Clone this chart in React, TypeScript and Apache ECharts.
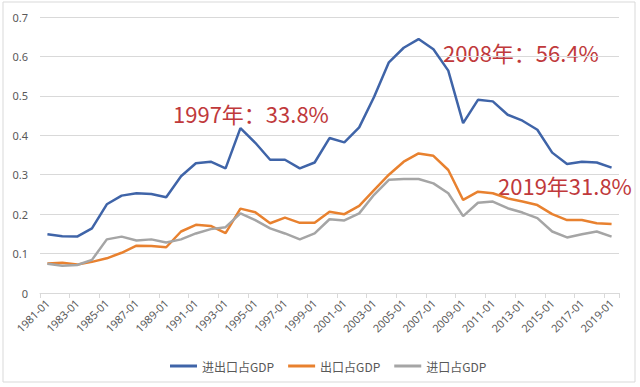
import React, { useEffect, useRef } from "react";
import * as echarts from "echarts";

const categories = [
  "1981-01", "1982-01", "1983-01", "1984-01", "1985-01", "1986-01", "1987-01", "1988-01", "1989-01", "1990-01",
  "1991-01", "1992-01", "1993-01", "1994-01", "1995-01", "1996-01", "1997-01", "1998-01", "1999-01", "2000-01",
  "2001-01", "2002-01", "2003-01", "2004-01", "2005-01", "2006-01", "2007-01", "2008-01", "2009-01", "2010-01",
  "2011-01", "2012-01", "2013-01", "2014-01", "2015-01", "2016-01", "2017-01", "2018-01", "2019-01",
];

const totalTrade = [
  0.149, 0.144, 0.143, 0.164, 0.225, 0.247, 0.253, 0.251, 0.243, 0.296,
  0.329, 0.333, 0.316, 0.418, 0.381, 0.338, 0.338, 0.316, 0.331, 0.393,
  0.382, 0.42, 0.497, 0.585, 0.622, 0.644, 0.618, 0.564, 0.431, 0.49,
  0.486, 0.452, 0.437, 0.414, 0.356, 0.327, 0.333, 0.331, 0.318,
];

const exportsShare = [
  0.075, 0.077, 0.072, 0.079, 0.088, 0.102, 0.12, 0.119, 0.116, 0.156,
  0.173, 0.17, 0.152, 0.214, 0.205, 0.177, 0.191, 0.178, 0.178, 0.206,
  0.2, 0.221, 0.261, 0.3, 0.333, 0.354, 0.348, 0.312, 0.236, 0.257,
  0.253, 0.24, 0.232, 0.223, 0.2, 0.185, 0.185, 0.177, 0.175,
];

const importsShare = [
  0.074, 0.069, 0.071, 0.084, 0.136, 0.143, 0.133, 0.136, 0.128, 0.136,
  0.151, 0.162, 0.167, 0.202, 0.185, 0.164, 0.151, 0.136, 0.151, 0.187,
  0.184, 0.202, 0.249, 0.287, 0.289, 0.289, 0.278, 0.253, 0.195, 0.229,
  0.232, 0.215, 0.204, 0.19, 0.156, 0.141, 0.149, 0.156, 0.143,
];

const seriesNames = ["进出口占GDP", "出口占GDP", "进口占GDP"];
const annotations = ["1997年：33.8%", "2008年：56.4%", "2019年31.8%"];

export default function App() {
  const ref = useRef<HTMLDivElement>(null);

  useEffect(() => {
    document.body.style.margin = "0";
    if (!ref.current) return;
    const chart = echarts.init(ref.current, null, { renderer: "svg" });
    const annoStyle = {
      fill: "#C0393B",
      font: '22px "Noto Sans CJK SC", sans-serif',
      verticalAlign: "middle",
    };
    chart.setOption({
      animation: false,
      backgroundColor: "#ffffff",
      color: ["#3F64A8", "#E8812F", "#A5A5A5"],
      grid: { left: 40, right: 21, top: 17, bottom: 94, containLabel: false },
      legend: {
        data: seriesNames,
        left: 165,
        top: 355,
        icon: "rect",
        itemWidth: 27,
        itemHeight: 3,
        itemGap: 14,
        textStyle: {
          color: "#595959",
          fontSize: 12,
          fontFamily: '"Noto Sans CJK SC", sans-serif',
        },
      },
      xAxis: {
        type: "category",
        data: categories,
        boundaryGap: true,
        axisLine: { lineStyle: { color: "#D9D9D9", width: 1 } },
        axisTick: { show: true, interval: 1, length: 5, lineStyle: { color: "#D9D9D9" } },
        axisLabel: {
          interval: 1,
          rotate: 45,
          margin: 8,
          color: "#595959",
          fontSize: 11,
          fontFamily: '"Noto Sans", sans-serif',
        },
      },
      yAxis: {
        type: "value",
        min: 0,
        max: 0.7,
        interval: 0.1,
        axisLine: { show: false },
        axisTick: { show: false },
        splitLine: { lineStyle: { color: "#D9D9D9", width: 1 } },
        axisLabel: {
          color: "#595959",
          fontSize: 11,
          margin: 12,
          fontFamily: '"Noto Sans", sans-serif',
        },
      },
      series: [
        { name: seriesNames[0], type: "line", data: totalTrade, symbol: "none", lineStyle: { width: 2.5 } },
        { name: seriesNames[1], type: "line", data: exportsShare, symbol: "none", lineStyle: { width: 2.5 } },
        { name: seriesNames[2], type: "line", data: importsShare, symbol: "none", lineStyle: { width: 2.5 } },
      ],
      graphic: [
        {
          type: "rect",
          shape: { x: 3, y: 2, width: 632, height: 380 },
          style: { fill: "none", stroke: "#D9D9D9", lineWidth: 1 },
          silent: true,
        },
        { type: "text", x: 173, y: 113, style: { ...annoStyle, text: annotations[0] } },
        { type: "text", x: 443, y: 52, style: { ...annoStyle, text: annotations[1] } },
        { type: "text", x: 498, y: 185, style: { ...annoStyle, text: annotations[2] } },
      ],
    });
    return () => chart.dispose();
  }, []);

  return <div ref={ref} style={{ width: 640, height: 387 }} />;
}
